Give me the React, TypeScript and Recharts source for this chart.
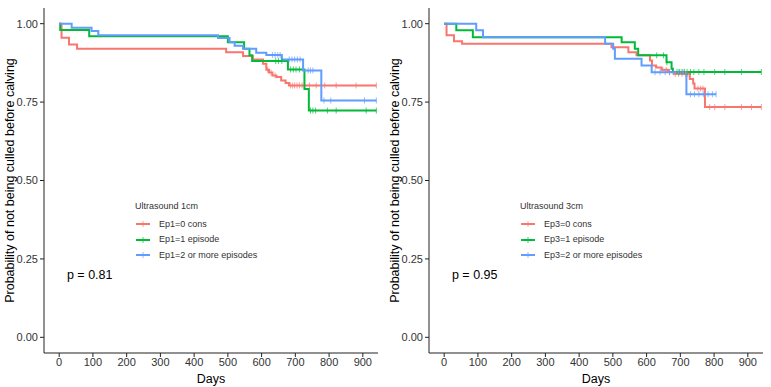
import { Legend, Line, LineChart, ReferenceDot, XAxis, YAxis } from "recharts";

// Kaplan-Meier steps: [day, survival]
const ep1ZeroSteps = [[0, 1], [7, 0.955], [29, 0.934], [53, 0.92], [495, 0.909], [545, 0.897], [574, 0.886], [604, 0.872], [614, 0.853], [622, 0.844], [632, 0.835], [644, 0.83], [658, 0.819], [671, 0.811], [681, 0.803]];
const ep1ZeroCensor = [618, 628, 640, 686, 692, 698, 705, 712, 720, 742, 762, 787, 821, 880, 940];
const ep1OneSteps = [[0, 1], [3, 0.98], [89, 0.96], [500, 0.941], [548, 0.92], [564, 0.899], [572, 0.881], [678, 0.854], [727, 0.792], [740, 0.723]];
const ep1OneCensor = [642, 650, 660, 686, 694, 702, 712, 745, 752, 760, 795, 821, 910, 940];
const ep1TwoSteps = [[0, 1], [37, 0.987], [96, 0.977], [116, 0.963], [471, 0.954], [505, 0.941], [520, 0.93], [545, 0.92], [584, 0.907], [614, 0.9], [660, 0.886], [723, 0.851], [777, 0.755]];
const ep1TwoCensor = [632, 640, 648, 655, 682, 690, 698, 706, 714, 738, 745, 752, 785, 805, 905, 940];

const ep3ZeroSteps = [[0, 1], [7, 0.963], [29, 0.944], [53, 0.936], [496, 0.925], [546, 0.909], [570, 0.899], [610, 0.883], [616, 0.867], [628, 0.86], [644, 0.853], [664, 0.846], [680, 0.84], [728, 0.824], [738, 0.809], [742, 0.793], [773, 0.734]];
const ep3ZeroCensor = [648, 658, 668, 685, 695, 705, 715, 722, 752, 760, 767, 787, 802, 832, 881, 911, 940];
const ep3OneSteps = [[0, 1], [36, 0.979], [85, 0.957], [526, 0.941], [565, 0.92], [575, 0.899], [659, 0.877], [674, 0.856], [678, 0.846]];
const ep3OneCensor = [630, 650, 660, 690, 698, 705, 712, 720, 730, 740, 755, 770, 802, 832, 881, 940];
const ep3TwoSteps = [[0, 1], [95, 0.979], [115, 0.957], [477, 0.936], [501, 0.92], [506, 0.888], [585, 0.867], [615, 0.845], [718, 0.775]];
const ep3TwoCensor = [625, 640, 655, 668, 680, 695, 708, 730, 742, 755, 768, 782, 795, 806];

const dayTicks = [0, 100, 200, 300, 400, 500, 600, 700, 800, 900];
const probTicks = [0, 0.25, 0.5, 0.75, 1];
const colors = ["#F8766D", "#00BA38", "#619CFF"];

type Pt = { day: number; surv: number; c: boolean };

function survAt(steps: number[][], day: number) {
  let s = 1;
  for (const [d, v] of steps) if (d <= day) s = v;
  return s;
}

function buildCurve(steps: number[][], censor: number[]): Pt[] {
  const pts: Pt[] = steps.map(([d, v]) => ({ day: d, surv: v, c: false }));
  censor.forEach((d) => pts.push({ day: d, surv: survAt(steps, d), c: true }));
  return pts.sort((a, b) => a.day - b.day);
}

const censorDot = (color: string) => (props: any) => {
  const { cx, cy, payload, index } = props;
  if (!payload?.c) return <g key={index} />;
  return <line key={index} x1={cx} x2={cx} y1={cy - 3} y2={cy + 3} stroke={color} strokeWidth={1} strokeOpacity={0.7} />;
};

function LegendBox({ title, payload }: { title: string; payload?: any[] }) {
  return (
    <div style={{ fontSize: 9, color: "#333", lineHeight: "15.5px" }}>
      <div style={{ marginBottom: 2 }}>{title}</div>
      {(payload ?? []).map((p, i) => (
        <div key={i} style={{ display: "flex", alignItems: "center" }}>
          <svg width={20} height={10} style={{ marginRight: 4 }}>
            <line x1={1} x2={15} y1={5} y2={5} stroke={p.color} strokeWidth={2} />
            <line x1={8} x2={8} y1={2} y2={8} stroke={p.color} strokeWidth={1} strokeOpacity={0.7} />
          </svg>
          <span>{p.value}</span>
        </div>
      ))}
    </div>
  );
}

function KMPanel({ curves, prefix, title, p }: { curves: Pt[][]; prefix: string; title: string; p: string }) {
  const names = [`${prefix}=0 cons`, `${prefix}=1 episode`, `${prefix}=2 or more episodes`];
  return (
    <LineChart width={385} height={387} margin={{ top: 8, right: 7, bottom: 0, left: 1 }}>
      <XAxis
        type="number"
        dataKey="day"
        domain={[-45, 945]}
        ticks={dayTicks}
        allowDataOverflow
        height={34}
        tick={{ fontSize: 11, fill: "#333" }}
        tickSize={4}
        tickMargin={1}
        stroke="#222"
        label={{ value: "Days", position: "insideBottom", offset: 4, fontSize: 12.5, fill: "#000" }}
      />
      <YAxis
        type="number"
        domain={[-0.05, 1.05]}
        ticks={probTicks}
        allowDataOverflow
        width={43}
        tick={{ fontSize: 11, fill: "#333" }}
        tickFormatter={(v) => Number(v).toFixed(2)}
        tickSize={4}
        tickMargin={2}
        stroke="#222"
        label={{
          value: "Probability of not being culled before calving",
          angle: -90,
          position: "insideLeft",
          offset: 9,
          fontSize: 12.5,
          fill: "#000",
          style: { textAnchor: "middle" }
        }}
      />
      {curves.map((data, i) => (
        <Line
          key={i}
          data={data}
          dataKey="surv"
          name={names[i]}
          type="stepAfter"
          stroke={colors[i]}
          strokeWidth={2}
          dot={censorDot(colors[i])}
          activeDot={false}
          isAnimationActive={false}
        />
      ))}
      <ReferenceDot x={23} y={0.2} r={0} fill="none" stroke="none" label={{ value: p, position: "right", offset: 0, fontSize: 12.5, fill: "#000" }} />
      <Legend
        layout="horizontal"
        verticalAlign="middle"
        align="center"
        wrapperStyle={{ left: 135, top: 199, width: 200 }}
        content={(props: any) => <LegendBox title={title} payload={props.payload} />}
      />
    </LineChart>
  );
}

export default function App() {
  const left = [buildCurve(ep1ZeroSteps, ep1ZeroCensor), buildCurve(ep1OneSteps, ep1OneCensor), buildCurve(ep1TwoSteps, ep1TwoCensor)];
  const right = [buildCurve(ep3ZeroSteps, ep3ZeroCensor), buildCurve(ep3OneSteps, ep3OneCensor), buildCurve(ep3TwoSteps, ep3TwoCensor)];
  return (
    <div
      style={{
        position: "absolute",
        left: 0,
        top: 0,
        width: 771,
        height: 387,
        display: "flex",
        background: "#fff",
        fontFamily: "'Liberation Sans', Arial, sans-serif"
      }}
    >
      <KMPanel curves={left} prefix="Ep1" title="Ultrasound 1cm" p="p = 0.81" />
      <KMPanel curves={right} prefix="Ep3" title="Ultrasound 3cm" p="p = 0.95" />
    </div>
  );
}
